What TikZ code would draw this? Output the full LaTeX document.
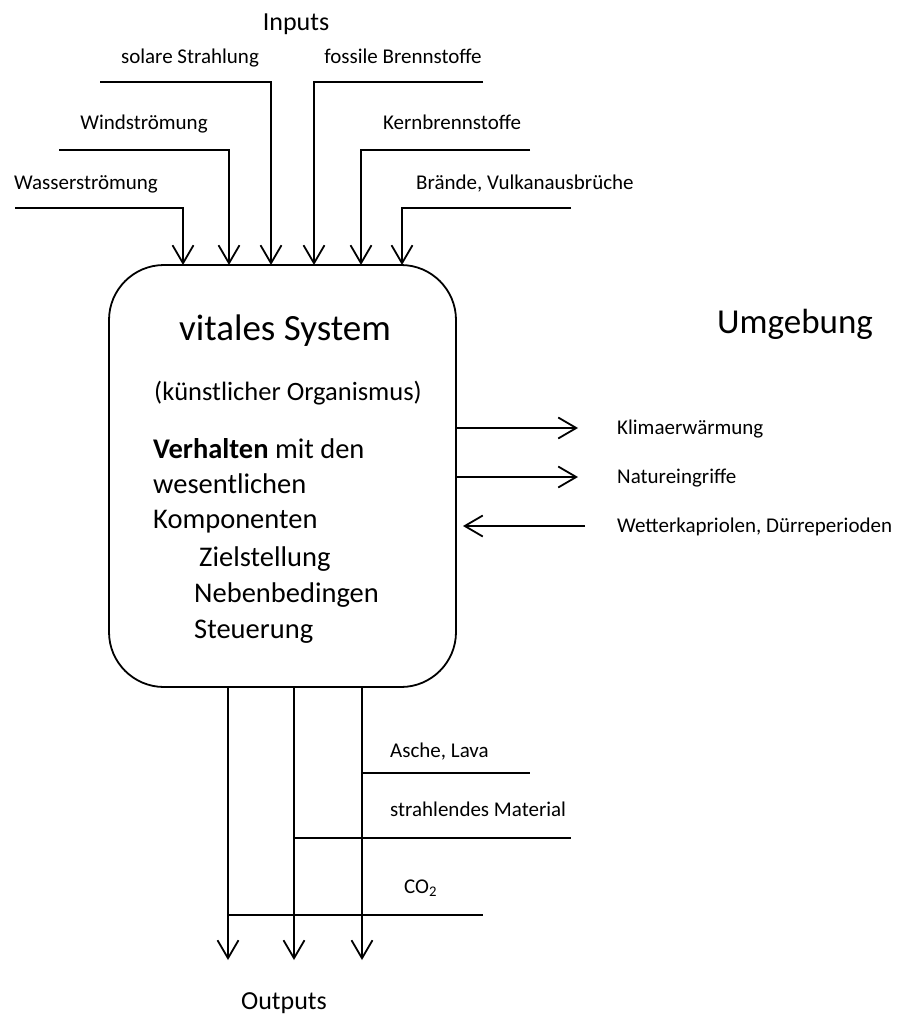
\documentclass[tikz,border=0pt]{standalone}
\usepackage{fontspec}
\setmainfont{Carlito}
\usetikzlibrary{arrows.meta}
\begin{document}
\begin{tikzpicture}[x=1pt,y=-1pt,
  ln/.style={line width=1.8pt},
  arr/.style={ln,-{Straight Barb[length=18pt,width=21pt,line width=1.8pt]}},
  small/.style={inner sep=0pt,font=\fontsize{21}{25}\selectfont},
  mid/.style={inner sep=0pt,font=\fontsize{26}{30}\selectfont},
  body/.style={inner sep=0pt,anchor=base west,font=\fontsize{28.5}{34}\selectfont},
  sysbox/.style={draw,ln,rounded corners=55pt,minimum width=347pt,minimum height=422pt}]
\useasboundingbox (0,0) rectangle (901,1014);

% main box
\node[sysbox] (sys) at (282.5,476) {};

% box texts
\node[inner sep=0pt,anchor=base,font=\fontsize{37}{44}\selectfont] (t1) at (285,340) {vitales System};
\node[inner sep=0pt,anchor=base,font=\fontsize{26.5}{32}\selectfont] (t2) at (288,400) {(künstlicher Organismus)};
\node[body] (t3) at (153,458) {\textbf{Verhalten} mit den};
\node[body] (t4) at (153,493) {wesentlichen};
\node[body] (t5) at (153,528) {Komponenten};
\node[body] (t6) at (199,566) {Zielstellung};
\node[body] (t7) at (194,602) {Nebenbedingen};
\node[body] (t8) at (194,638) {Steuerung};

% headings
\node[mid,anchor=base] (inputs) at (296,31) {Inputs};
\node[mid,anchor=base] (outputs) at (284,1009) {Outputs};
\node[inner sep=0pt,anchor=base west,font=\fontsize{35}{42}\selectfont] (umg) at (717,333) {Umgebung};

% input labels
\node[small,anchor=base] (l3) at (190,64) {solare Strahlung};
\node[small,anchor=base] (l4) at (403,64) {fossile Brennstoffe};
\node[small,anchor=base] (l2) at (144,130) {Windströmung};
\node[small,anchor=base] (l5) at (452,130) {Kernbrennstoffe};
\node[small,anchor=base] (l1) at (86,189) {Wasserströmung};
\node[small,anchor=base west] (l6) at (416,189) {Brände, Vulkanausbrüche};

% input coordinates
\coordinate (s1) at (15,208);  \coordinate (e1) at (183,265);
\coordinate (s2) at (59,150);  \coordinate (e2) at (229,265);
\coordinate (s3) at (100,82);  \coordinate (e3) at (271,265);
\coordinate (s4) at (483,82);  \coordinate (e4) at (314,265);
\coordinate (s5) at (530,150); \coordinate (e5) at (361,265);
\coordinate (s6) at (571,208); \coordinate (e6) at (402,265);
\foreach \i in {1,...,6} {\draw[arr] (s\i) -| (e\i);}

% side arrows
\node[small,anchor=base west] (r1) at (617,434) {Klimaerwärmung};
\node[small,anchor=base west] (r2) at (617,483) {Natureingriffe};
\node[small,anchor=base west] (r3) at (617,532) {Wetterkapriolen, Dürreperioden};
\coordinate (k1) at (578,428);
\coordinate (k2) at (578,477);
\coordinate (w1) at (585,526);
\coordinate (w2) at (463,526);
\draw[arr] (sys.east |- k1) -- (k1);
\draw[arr] (sys.east |- k2) -- (k2);
\draw[arr] (w1) -- (w2);

% outputs
\coordinate (o1) at (228,960);
\coordinate (o2) at (294,960);
\coordinate (o3) at (362,960);
\foreach \i in {1,2,3} {\draw[arr] (sys.south -| o\i) -- (o\i);}
\coordinate (h1) at (530,773);
\coordinate (h2) at (571,838);
\coordinate (h3) at (483,915);
\draw[ln] (o3 |- h1) -- (h1);
\draw[ln] (o2 |- h2) -- (h2);
\draw[ln] (o1 |- h3) -- (h3);
\node[small,anchor=base west] (b1) at (390,757) {Asche, Lava};
\node[small,anchor=base west] (b2) at (390,816) {strahlendes Material};
\node[small,anchor=base west] (b3) at (404,893) {CO\textsubscript{2}};
\end{tikzpicture}
\end{document}
